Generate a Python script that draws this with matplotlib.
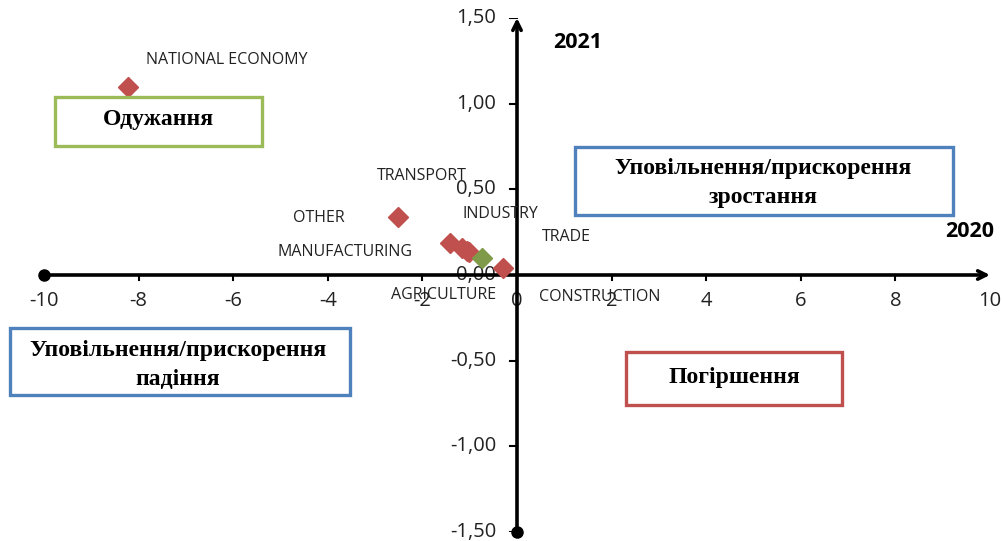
import matplotlib
matplotlib.use("Agg")
import matplotlib.pyplot as plt
from matplotlib.patches import Rectangle

# ---- data ----
sectors = ["NATIONAL ECONOMY", "OTHER", "TRANSPORT", "MANUFACTURING",
           "INDUSTRY", "CONSTRUCTION", "AGRICULTURE", "TRADE"]
x2020 = [-8.22, -2.52, -1.42, -1.17, -1.02, -1.05, -0.74, -0.30]
y2021 = [1.10, 0.34, 0.185, 0.16, 0.135, 0.14, 0.10, 0.04]
point_colors = ["#C0504D", "#C0504D", "#C0504D", "#C0504D",
                "#C0504D", "#C0504D", "#7F9A48", "#C0504D"]
x_ticks = [-10, -8, -6, -4, -2, 0, 2, 4, 6, 8, 10]
y_ticks = [-1.5, -1.0, -0.5, 0.0, 0.5, 1.0, 1.5]
y_tick_labels = ["-1,50", "-1,00", "-0,50", "0,00", "0,50", "1,00", "1,50"]

# label positions (pixel centres in the figure)
label_px = [(227, 60), (319, 218), (422, 176), (345, 252),
            (500, 214), (600, 297), (444, 295), (566, 237)]

W, H = 1003, 541
fig = plt.figure(figsize=(W / 100, H / 100), dpi=100)
ax = fig.add_axes([44 / W, 9 / H, 946 / W, 514 / H])
ax.set_xlim(-10, 10)
ax.set_ylim(-1.5, 1.5)
ax.patch.set_alpha(0)
for s in ax.spines.values():
    s.set_visible(False)
ax.set_xticks([])
ax.set_yticks([])

def fx(px):
    return px / W

def fy(py):
    return 1 - py / H

lbl_font = "Open Sans"
num_font = "Open Sans"

# axes lines with arrows
ax.annotate("", xy=(10, 0), xytext=(-10, 0),
            arrowprops=dict(arrowstyle="->,head_length=0.6,head_width=0.3",
                            lw=2.6, color="black", shrinkA=0, shrinkB=0),
            zorder=3)
ax.annotate("", xy=(0, 1.5), xytext=(0, -1.5),
            arrowprops=dict(arrowstyle="->,head_length=0.6,head_width=0.3",
                            lw=2.6, color="black", shrinkA=0, shrinkB=0),
            zorder=3)
ax.plot([-10], [0], "o", color="black", ms=8, clip_on=False, zorder=4)
ax.plot([0], [-1.5], "o", color="black", ms=8, clip_on=False, zorder=4)

# tick marks and labels
for t in x_ticks:
    if t not in (-10, 0, 10):
        ax.plot([t, t], [0, -0.03], color="black", lw=1.5, zorder=3)
    ax.text(t, -0.152, str(t), ha="center", va="center", fontsize=14.5,
            family=num_font, color="#222222", zorder=1)
for t, lab in zip(y_ticks, y_tick_labels):
    if t not in (0.0,):
        ax.plot([-0.15, 0], [t, t], color="black", lw=1.5, zorder=3)
    ax.text(-0.44, t, lab, ha="right", va="center", fontsize=14.5,
            family=num_font, color="#222222", zorder=1)

# points
for xv, yv, c in zip(x2020, y2021, point_colors):
    ax.plot(xv, yv, "D", color=c, ms=10, mec=c, zorder=5)

# labels
for name, (px, py) in zip(sectors, label_px):
    fig.text(fx(px), fy(py), name, ha="center", va="center", fontsize=11.5,
             family=lbl_font, color="#222222", zorder=6)

# year labels
fig.text(fx(578), fy(42), "2021", ha="center", va="center", fontsize=15.5,
         fontweight="bold", family="Open Sans")
fig.text(fx(970), fy(231), "2020", ha="center", va="center", fontsize=15.5,
         fontweight="bold", family="Open Sans")

# quadrant boxes
boxes = [
    ((55, 97, 262, 146), "#9BBB59", "Одужання", (158, 120)),
    ((575, 147, 953, 215), "#4F81BD", "Уповільнення/прискорення\nзростання", (763, 183)),
    ((10, 328, 350, 395), "#4F81BD", "Уповільнення/прискорення\nпадіння", (178, 365)),
    ((626, 352, 842, 405), "#C0504D", "Погіршення", (734, 378)),
]
for (x0, y0, x1, y1), col, txt, (tx, ty) in boxes:
    rect = Rectangle((fx(x0), fy(y1)), fx(x1) - fx(x0), fy(y0) - fy(y1),
                     transform=fig.transFigure, fill=True, facecolor="white",
                     edgecolor=col, lw=2.4, zorder=2)
    fig.add_artist(rect)
    fig.text(fx(tx), fy(ty), txt, ha="center", va="center", fontsize=17,
             fontweight="bold", family="Liberation Serif", linespacing=1.45,
             zorder=3)

fig.savefig("out.png", dpi=100)
